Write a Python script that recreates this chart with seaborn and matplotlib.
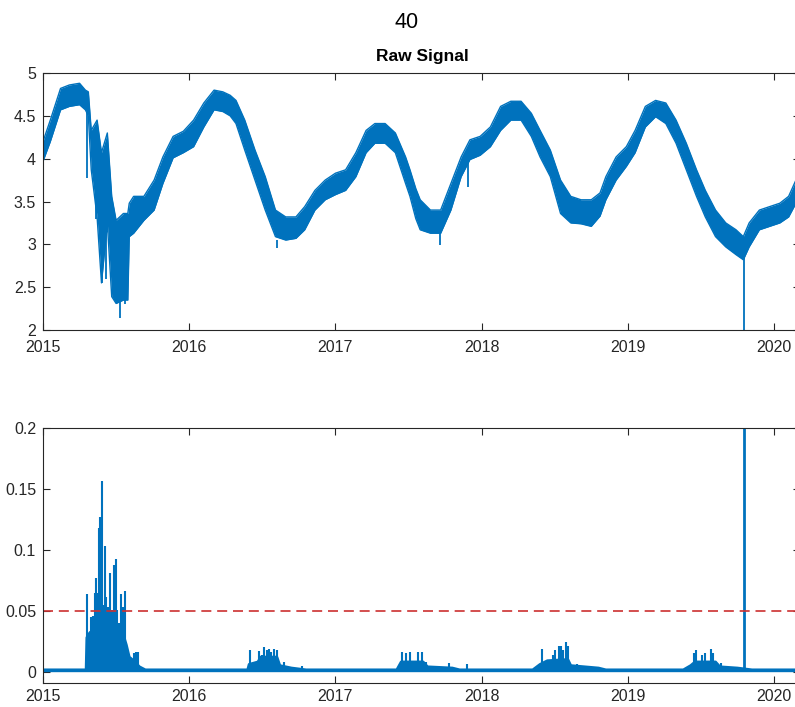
import numpy as np
import pandas as pd
import seaborn as sns
import matplotlib.pyplot as plt

# --- top panel: raw signal band (lower / upper envelope) ---
raw_year = [2015.00, 2015.05, 2015.12, 2015.18, 2015.25, 2015.29, 2015.31, 2015.33,
            2015.37, 2015.40, 2015.44, 2015.47, 2015.50, 2015.55, 2015.58, 2015.59,
            2015.62, 2015.69, 2015.76, 2015.82, 2015.89, 2015.96, 2016.03, 2016.10,
            2016.17, 2016.23, 2016.28, 2016.32, 2016.38, 2016.45, 2016.52, 2016.59,
            2016.66, 2016.73, 2016.79, 2016.86, 2016.93, 2017.00, 2017.07, 2017.14,
            2017.21, 2017.27, 2017.34, 2017.41, 2017.48, 2017.51, 2017.55, 2017.58,
            2017.65, 2017.72, 2017.79, 2017.86, 2017.92, 2017.99, 2018.06, 2018.13,
            2018.20, 2018.27, 2018.34, 2018.40, 2018.47, 2018.54, 2018.61, 2018.68,
            2018.75, 2018.81, 2018.85, 2018.92, 2018.99, 2019.05, 2019.12, 2019.19,
            2019.26, 2019.33, 2019.40, 2019.47, 2019.53, 2019.60, 2019.67, 2019.74,
            2019.79, 2019.83, 2019.90, 2019.97, 2020.04, 2020.10, 2020.15, 2020.19]
raw_lo = [3.97, 4.20, 4.57, 4.61, 4.63, 4.57, 4.50, 3.87,
          3.32, 2.55, 3.25, 2.39, 2.31, 2.35, 2.35, 3.09,
          3.13, 3.28, 3.40, 3.71, 4.01, 4.07, 4.14, 4.37,
          4.57, 4.55, 4.50, 4.41, 4.10, 3.75, 3.40, 3.09,
          3.05, 3.07, 3.17, 3.40, 3.52, 3.58, 3.63, 3.79,
          4.07, 4.18, 4.18, 4.07, 3.71, 3.56, 3.30, 3.17,
          3.13, 3.13, 3.40, 3.79, 3.99, 4.04, 4.14, 4.33,
          4.45, 4.45, 4.26, 4.02, 3.79, 3.36, 3.25, 3.24,
          3.21, 3.33, 3.52, 3.75, 3.91, 4.07, 4.37, 4.49,
          4.41, 4.18, 3.87, 3.56, 3.32, 3.09, 2.97, 2.88,
          2.82, 2.97, 3.17, 3.21, 3.25, 3.32, 3.48, 3.55]
raw_hi = [4.20, 4.45, 4.82, 4.86, 4.88, 4.80, 4.78, 4.33,
          4.45, 4.07, 4.30, 3.56, 3.28, 3.36, 3.36, 3.48,
          3.56, 3.56, 3.75, 4.02, 4.26, 4.32, 4.45, 4.65,
          4.80, 4.78, 4.74, 4.68, 4.45, 4.10, 3.79, 3.40,
          3.32, 3.32, 3.44, 3.63, 3.75, 3.83, 3.87, 4.07,
          4.33, 4.41, 4.41, 4.30, 4.02, 3.87, 3.65, 3.52,
          3.40, 3.40, 3.71, 4.02, 4.22, 4.26, 4.37, 4.61,
          4.67, 4.67, 4.53, 4.33, 4.10, 3.75, 3.56, 3.52,
          3.52, 3.60, 3.79, 4.02, 4.14, 4.33, 4.61, 4.68,
          4.65, 4.45, 4.18, 3.87, 3.63, 3.40, 3.25, 3.17,
          3.09, 3.25, 3.40, 3.44, 3.48, 3.56, 3.75, 3.80]

# isolated drops below the band: (year, band edge, tip)
drop_year = [2015.300, 2015.365, 2015.404, 2015.430, 2015.525, 2015.560,
             2016.600, 2017.715, 2017.910, 2019.793]
drop_from = [4.55, 3.90, 3.90, 3.40, 2.35, 2.60, 3.05, 3.13, 3.99, 2.85]
drop_to = [3.77, 3.30, 2.55, 2.60, 2.14, 2.30, 2.96, 2.99, 3.67, 1.90]

# --- bottom panel: residual ---
base_level = 0.0015
floor_year = [2015.00, 2015.295, 2015.30, 2015.32, 2015.35, 2015.37, 2015.40, 2015.43,
              2015.46, 2015.49, 2015.52, 2015.55, 2015.57, 2015.59, 2015.62, 2015.66,
              2015.70,
              2016.40, 2016.41, 2016.47, 2016.49, 2016.60, 2016.62, 2016.70, 2016.80,
              2017.42, 2017.45, 2017.60, 2017.63, 2017.80, 2017.85,
              2018.35, 2018.40, 2018.45, 2018.59, 2018.61, 2018.80, 2018.85,
              2019.38, 2019.43, 2019.46, 2019.60, 2019.63, 2019.75, 2019.85, 2020.20]
floor_val = [0.0015, 0.0015, 0.028, 0.032, 0.035, 0.040, 0.042, 0.040,
             0.038, 0.036, 0.033, 0.030, 0.022, 0.012, 0.009, 0.004,
             0.0015,
             0.0015, 0.006, 0.008, 0.012, 0.012, 0.005, 0.003, 0.0015,
             0.0015, 0.008, 0.008, 0.004, 0.003, 0.0015,
             0.0015, 0.006, 0.009, 0.010, 0.005, 0.003, 0.0015,
             0.0015, 0.005, 0.008, 0.008, 0.004, 0.003, 0.0015, 0.0015]
spike_year = [2015.301, 2015.315, 2015.328, 2015.342, 2015.356, 2015.365, 2015.374,
              2015.381, 2015.388, 2015.397, 2015.404, 2015.415, 2015.422, 2015.433,
              2015.443, 2015.456, 2015.465, 2015.474, 2015.484, 2015.497, 2015.506,
              2015.520, 2015.531, 2015.538, 2015.549, 2015.561, 2015.573, 2015.583,
              2015.597, 2015.611, 2015.624, 2015.638, 2015.648, 2015.663,
              2016.418, 2016.480, 2016.500, 2016.510, 2016.530, 2016.543, 2016.560,
              2016.580, 2016.600, 2016.650, 2016.770,
              2017.457, 2017.480, 2017.510, 2017.565, 2017.594, 2017.620, 2017.774, 2017.900,
              2018.416, 2018.490, 2018.500, 2018.530, 2018.545, 2018.560, 2018.580,
              2018.590, 2018.650, 2018.700,
              2019.450, 2019.466, 2019.510, 2019.530, 2019.570, 2019.580, 2019.640]
spike_val = [0.064, 0.023, 0.045, 0.046, 0.065, 0.077, 0.065,
             0.118, 0.127, 0.062, 0.157, 0.055, 0.103, 0.061,
             0.053, 0.081, 0.045, 0.051, 0.088, 0.093, 0.051,
             0.040, 0.064, 0.021, 0.053, 0.066, 0.018, 0.010,
             0.008, 0.010, 0.015, 0.016, 0.016, 0.005,
             0.018, 0.017, 0.014, 0.020, 0.018, 0.019, 0.016,
             0.019, 0.018, 0.008, 0.005,
             0.016, 0.015, 0.016, 0.016, 0.016, 0.008, 0.007, 0.006,
             0.019, 0.014, 0.018, 0.021, 0.021, 0.018, 0.024,
             0.021, 0.006, 0.005,
             0.015, 0.018, 0.014, 0.015, 0.019, 0.015, 0.007]
big_spike_year = 2019.793
big_spike_val = 0.21
threshold = 0.05

BLUE = "#0072BD"
INK = "#262626"

sns.set_style("ticks")
plt.rcParams["font.family"] = ["Liberation Sans", "DejaVu Sans"]
plt.rcParams["axes.edgecolor"] = INK
plt.rcParams["xtick.color"] = INK
plt.rcParams["ytick.color"] = INK

fig = plt.figure(figsize=(7.95, 7.07), dpi=100)
x_right = 2015 + 757 / 146.2
ax1 = fig.add_axes([43 / 795, 1 - 330 / 707, 757 / 795, 257 / 707])
ax2 = fig.add_axes([43 / 795, 1 - 683 / 707, 757 / 795, 254.7 / 707])

# === top: raw signal ===
df_raw = pd.DataFrame({"year": raw_year, "lo": raw_lo, "hi": raw_hi})
ax1.fill_between(df_raw["year"], df_raw["lo"], df_raw["hi"], color=BLUE, lw=0)
sns.lineplot(data=df_raw, x="year", y="lo", ax=ax1, color=BLUE, lw=1)
sns.lineplot(data=df_raw, x="year", y="hi", ax=ax1, color=BLUE, lw=1)
ax1.vlines(drop_year, drop_from, drop_to, color=BLUE, lw=1.3)
ax1.set_ylim(2, 5)
ax1.set_yticks([2, 2.5, 3, 3.5, 4, 4.5, 5])
ax1.set_yticklabels(["2", "2.5", "3", "3.5", "4", "4.5", "5"])

# === bottom: residual ===
df_floor = pd.DataFrame({"year": floor_year, "val": floor_val})
ax2.fill_between(df_floor["year"], 0, df_floor["val"], color=BLUE, lw=0)
sns.lineplot(data=df_floor, x="year", y="val", ax=ax2, color=BLUE, lw=2)
ax2.vlines(spike_year, base_level, spike_val, color=BLUE, lw=1.5)
ax2.vlines([big_spike_year], base_level, big_spike_val, color=BLUE, lw=2)
ax2.axhline(threshold, color="#CC3030", lw=1.2, ls=(0, (6, 3.5)))
ax2.set_ylim(-0.0093, 0.2)
ax2.set_yticks([0, 0.05, 0.1, 0.15, 0.2])
ax2.set_yticklabels(["0", "0.05", "0.1", "0.15", "0.2"])

years = [2015, 2016, 2017, 2018, 2019, 2020]
for ax in (ax1, ax2):
    ax.set_xlim(2015, x_right)
    ax.set_xticks(years)
    ax.set_xticklabels([str(y) for y in years])
    ax.set_xlabel("")
    ax.set_ylabel("")
    ax.tick_params(direction="in", top=True, right=True, length=5, width=0.8,
                   labelsize=11.5)
    ax.tick_params(axis="y", pad=5)
    for s in ax.spines.values():
        s.set_linewidth(0.8)
        s.set_visible(True)
ax1.tick_params(axis="x", pad=7)
ax2.tick_params(axis="x", pad=4)

fig.text(407 / 795, 1 - 22 / 707, "40", ha="center", va="center", fontsize=15.5, color="black")
fig.text(422 / 795, 1 - 57 / 707, "Raw Signal", ha="center", va="center",
         fontsize=12.5, fontweight="bold", color="black")

plt.savefig("out.png", dpi=100)
plt.close()
